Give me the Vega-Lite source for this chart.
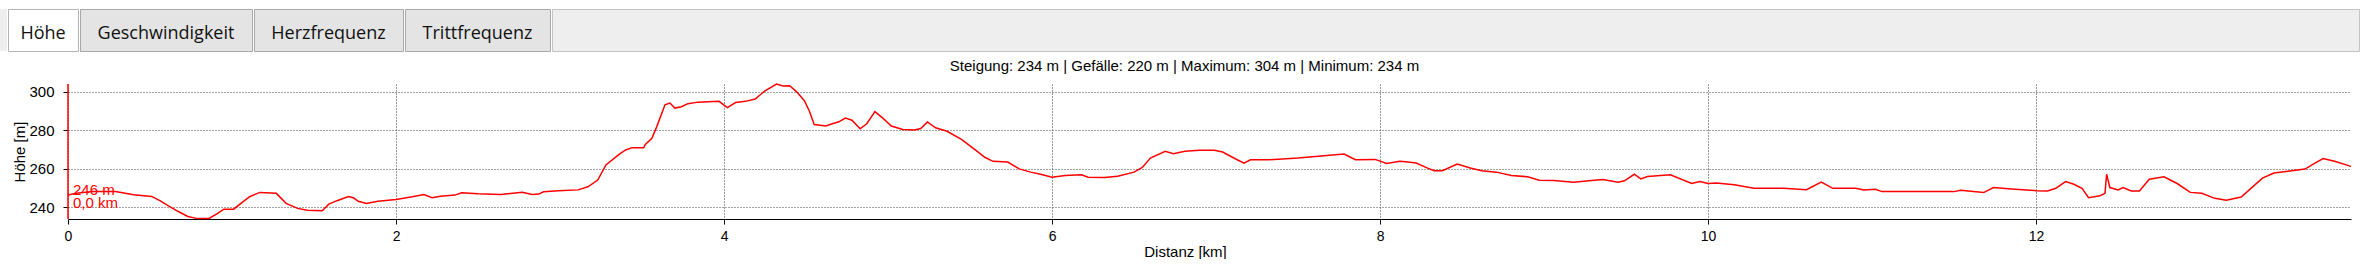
{
  "$schema": "https://vega.github.io/schema/vega-lite/v6.json",
  "padding": {"left": 0, "top": 8, "right": 0, "bottom": 0},
  "background": "white",
  "spacing": 7,
  "config": {"font": "Liberation Sans", "view": {"stroke": null}},
  "datasets": {
    "profil": [
      {"distanz":0,"hoehe":246.5},{"distanz":0.05,"hoehe":247.3},{"distanz":0.15,"hoehe":248.2},{"distanz":0.29,"hoehe":248.2},{"distanz":0.40,"hoehe":246.6},{"distanz":0.51,"hoehe":245.7},{"distanz":0.56,"hoehe":243.5},{"distanz":0.61,"hoehe":240.9},{"distanz":0.67,"hoehe":238},{"distanz":0.73,"hoehe":235.3},{"distanz":0.79,"hoehe":234.2},{"distanz":0.86,"hoehe":234.3},{"distanz":0.91,"hoehe":236.8},{"distanz":0.95,"hoehe":239.1},{"distanz":1.01,"hoehe":239.1},{"distanz":1.06,"hoehe":242.5},{"distanz":1.11,"hoehe":245.7},{"distanz":1.17,"hoehe":247.8},{"distanz":1.27,"hoehe":247.3},{"distanz":1.33,"hoehe":242.1},{"distanz":1.40,"hoehe":239.5},{"distanz":1.46,"hoehe":238.6},{"distanz":1.55,"hoehe":238.3},{"distanz":1.59,"hoehe":241.7},{"distanz":1.64,"hoehe":243.5},{"distanz":1.71,"hoehe":245.7},{"distanz":1.74,"hoehe":245.0},{"distanz":1.77,"hoehe":243.2},{"distanz":1.82,"hoehe":242.0},{"distanz":1.89,"hoehe":243.2},{"distanz":2.00,"hoehe":244.1},{"distanz":2.10,"hoehe":245.5},{"distanz":2.17,"hoehe":246.7},{"distanz":2.22,"hoehe":245.0},{"distanz":2.27,"hoehe":245.8},{"distanz":2.36,"hoehe":246.4},{"distanz":2.40,"hoehe":247.6},{"distanz":2.50,"hoehe":247.1},{"distanz":2.64,"hoehe":246.7},{"distanz":2.77,"hoehe":247.9},{"distanz":2.83,"hoehe":246.7},{"distanz":2.87,"hoehe":246.9},{"distanz":2.90,"hoehe":248.1},{"distanz":2.99,"hoehe":248.6},{"distanz":3.11,"hoehe":249.1},{"distanz":3.17,"hoehe":250.7},{"distanz":3.23,"hoehe":254.2},{"distanz":3.28,"hoehe":262.0},{"distanz":3.36,"hoehe":267.5},{"distanz":3.40,"hoehe":269.8},{"distanz":3.44,"hoehe":271.0},{"distanz":3.51,"hoehe":271.0},{"distanz":3.52,"hoehe":272.7},{"distanz":3.56,"hoehe":275.9},{"distanz":3.59,"hoehe":281.9},{"distanz":3.64,"hoehe":293.2},{"distanz":3.67,"hoehe":294.1},{"distanz":3.70,"hoehe":291.5},{"distanz":3.74,"hoehe":292.2},{"distanz":3.78,"hoehe":293.8},{"distanz":3.84,"hoehe":294.6},{"distanz":3.97,"hoehe":295.0},{"distanz":4.02,"hoehe":291.8},{"distanz":4.07,"hoehe":294.4},{"distanz":4.13,"hoehe":295.0},{"distanz":4.19,"hoehe":296.2},{"distanz":4.25,"hoehe":300.5},{"distanz":4.32,"hoehe":304.0},{"distanz":4.36,"hoehe":303.0},{"distanz":4.40,"hoehe":303.1},{"distanz":4.44,"hoehe":300.2},{"distanz":4.49,"hoehe":295.3},{"distanz":4.52,"hoehe":290.0},{"distanz":4.55,"hoehe":283.0},{"distanz":4.62,"hoehe":282.2},{"distanz":4.66,"hoehe":283.4},{"distanz":4.70,"hoehe":284.4},{"distanz":4.74,"hoehe":286.3},{"distanz":4.78,"hoehe":285.2},{"distanz":4.83,"hoehe":280.8},{"distanz":4.87,"hoehe":283.4},{"distanz":4.92,"hoehe":289.7},{"distanz":4.97,"hoehe":286.2},{"distanz":5.02,"hoehe":282.2},{"distanz":5.09,"hoehe":280.4},{"distanz":5.16,"hoehe":280.1},{"distanz":5.20,"hoehe":280.9},{"distanz":5.24,"hoehe":284.3},{"distanz":5.29,"hoehe":281.3},{"distanz":5.36,"hoehe":279.5},{"distanz":5.45,"hoehe":275.2},{"distanz":5.53,"hoehe":270.0},{"distanz":5.59,"hoehe":266.0},{"distanz":5.64,"hoehe":263.9},{"distanz":5.73,"hoehe":263.5},{"distanz":5.80,"hoehe":260.0},{"distanz":5.87,"hoehe":258.3},{"distanz":5.93,"hoehe":257.2},{"distanz":6.00,"hoehe":255.7},{"distanz":6.08,"hoehe":256.6},{"distanz":6.18,"hoehe":256.9},{"distanz":6.22,"hoehe":255.7},{"distanz":6.32,"hoehe":255.5},{"distanz":6.40,"hoehe":256.2},{"distanz":6.50,"hoehe":258.3},{"distanz":6.55,"hoehe":260.7},{"distanz":6.60,"hoehe":265.6},{"distanz":6.69,"hoehe":269.1},{"distanz":6.74,"hoehe":267.9},{"distanz":6.81,"hoehe":269.1},{"distanz":6.90,"hoehe":269.6},{"distanz":6.99,"hoehe":269.6},{"distanz":7.04,"hoehe":268.7},{"distanz":7.12,"hoehe":265.1},{"distanz":7.17,"hoehe":263.0},{"distanz":7.21,"hoehe":264.7},{"distanz":7.32,"hoehe":264.7},{"distanz":7.50,"hoehe":265.6},{"distanz":7.64,"hoehe":266.7},{"distanz":7.78,"hoehe":267.7},{"distanz":7.85,"hoehe":264.7},{"distanz":7.97,"hoehe":264.9},{"distanz":8.04,"hoehe":262.8},{"distanz":8.12,"hoehe":264.0},{"distanz":8.17,"hoehe":263.5},{"distanz":8.22,"hoehe":263.0},{"distanz":8.29,"hoehe":260.4},{"distanz":8.33,"hoehe":259.0},{"distanz":8.38,"hoehe":259.0},{"distanz":8.47,"hoehe":262.5},{"distanz":8.55,"hoehe":260.4},{"distanz":8.62,"hoehe":259.0},{"distanz":8.71,"hoehe":258.3},{"distanz":8.80,"hoehe":256.6},{"distanz":8.90,"hoehe":255.9},{"distanz":8.97,"hoehe":254.1},{"distanz":9.06,"hoehe":253.9},{"distanz":9.18,"hoehe":253.1},{"distanz":9.29,"hoehe":253.9},{"distanz":9.36,"hoehe":254.5},{"distanz":9.45,"hoehe":253.1},{"distanz":9.49,"hoehe":253.8},{"distanz":9.55,"hoehe":257.2},{"distanz":9.59,"hoehe":254.8},{"distanz":9.63,"hoehe":256.0},{"distanz":9.77,"hoehe":256.9},{"distanz":9.90,"hoehe":252.4},{"distanz":9.95,"hoehe":253.4},{"distanz":10.00,"hoehe":252.4},{"distanz":10.05,"hoehe":252.7},{"distanz":10.16,"hoehe":251.7},{"distanz":10.28,"hoehe":249.9},{"distanz":10.46,"hoehe":249.9},{"distanz":10.60,"hoehe":249.2},{"distanz":10.69,"hoehe":253.1},{"distanz":10.76,"hoehe":249.9},{"distanz":10.90,"hoehe":249.9},{"distanz":10.95,"hoehe":249.0},{"distanz":11.02,"hoehe":249.4},{"distanz":11.06,"hoehe":248.2},{"distanz":11.28,"hoehe":248.2},{"distanz":11.50,"hoehe":248.2},{"distanz":11.54,"hoehe":248.9},{"distanz":11.68,"hoehe":247.7},{"distanz":11.74,"hoehe":250.3},{"distanz":11.85,"hoehe":249.6},{"distanz":12.00,"hoehe":248.7},{"distanz":12.07,"hoehe":248.5},{"distanz":12.12,"hoehe":249.9},{"distanz":12.18,"hoehe":253.4},{"distanz":12.23,"hoehe":252.0},{"distanz":12.28,"hoehe":249.9},{"distanz":12.32,"hoehe":245.0},{"distanz":12.39,"hoehe":246.1},{"distanz":12.42,"hoehe":247.3},{"distanz":12.43,"hoehe":257.2},{"distanz":12.45,"hoehe":250.3},{"distanz":12.50,"hoehe":249.1},{"distanz":12.53,"hoehe":250.3},{"distanz":12.58,"hoehe":248.5},{"distanz":12.63,"hoehe":248.5},{"distanz":12.69,"hoehe":254.6},{"distanz":12.78,"hoehe":255.9},{"distanz":12.86,"hoehe":252.4},{"distanz":12.94,"hoehe":247.8},{"distanz":13.01,"hoehe":247.3},{"distanz":13.09,"hoehe":244.7},{"distanz":13.16,"hoehe":243.7},{"distanz":13.25,"hoehe":245.4},{"distanz":13.31,"hoehe":249.9},{"distanz":13.38,"hoehe":255.2},{"distanz":13.45,"hoehe":257.8},{"distanz":13.64,"hoehe":259.9},{"distanz":13.70,"hoehe":263.0},{"distanz":13.75,"hoehe":265.3},{"distanz":13.82,"hoehe":263.9},{"distanz":13.92,"hoehe":261.3}
    ],
    "marker": [{"distanz": 0, "hoehe": 246, "beschriftung": "246 m\n0,0 km"}],
    "leer": [{"t": ""}]
  },
  "vconcat": [
    {
      "spacing": 0,
      "hconcat": [
        {"width": 7, "height": 42, "data": {"name": "leer"}, "view": {"fill": "#eeeeee", "stroke": null},
         "mark": {"type": "text", "fontSize": 10}, "encoding": {"text": {"field": "t"}}},
        {"width": 70, "height": 42, "data": {"values": [{"tab": "Höhe"}]}, "view": {"fill": "white", "stroke": "#b4b4b4"},
         "mark": {"type": "text", "font": "Open Sans", "fontSize": 18, "color": "#111111", "dy": 4}, "encoding": {"text": {"field": "tab"}}},
        {"width": 172, "height": 42, "data": {"values": [{"tab": "Geschwindigkeit"}]}, "view": {"fill": "#e4e4e4", "stroke": "#a8a8a8"},
         "mark": {"type": "text", "font": "Open Sans", "fontSize": 18, "color": "#111111", "dy": 4}, "encoding": {"text": {"field": "tab"}}},
        {"width": 149, "height": 42, "data": {"values": [{"tab": "Herzfrequenz"}]}, "view": {"fill": "#e4e4e4", "stroke": "#a8a8a8"},
         "mark": {"type": "text", "font": "Open Sans", "fontSize": 18, "color": "#111111", "dy": 4}, "encoding": {"text": {"field": "tab"}}},
        {"width": 145, "height": 42, "data": {"values": [{"tab": "Trittfrequenz"}]}, "view": {"fill": "#e4e4e4", "stroke": "#a8a8a8"},
         "mark": {"type": "text", "font": "Open Sans", "fontSize": 18, "color": "#111111", "dy": 4}, "encoding": {"text": {"field": "tab"}}},
        {"width": 1807, "height": 42, "data": {"name": "leer"}, "view": {"fill": "#eeeeee", "stroke": "#c4c4c4"},
         "mark": {"type": "text", "fontSize": 10}, "encoding": {"text": {"field": "t"}}}
      ]
    },
    {
      "spacing": 0,
      "hconcat": [
        {"width": 12, "height": 135, "data": {"name": "leer"}, "mark": {"type": "text", "fontSize": 10}, "encoding": {"text": {"field": "t"}}},
        {
          "width": 2283,
          "height": 135,
          "title": {"text": "Steigung: 234 m | Gefälle: 220 m | Maximum: 304 m | Minimum: 234 m", "fontSize": 15, "fontWeight": "normal", "font": "Liberation Sans", "color": "black", "frame": "group", "anchor": "middle", "dx": -25, "offset": 7},
          "layer": [
            {
              "data": {"name": "profil"},
              "mark": {"type": "line", "color": "#ff0000", "strokeWidth": 1.5},
              "encoding": {
                "x": {"field": "distanz", "type": "quantitative", "scale": {"domain": [0, 13.92], "nice": false},
                  "axis": {"values": [0, 2, 4, 6, 8, 10, 12], "format": "d", "title": "Distanz [km]", "grid": true, "gridColor": "#333333", "gridDash": [1, 2], "domainColor": "black", "domainWidth": 1.2, "tickColor": "black", "tickSize": 5, "labelFontSize": 14, "labelColor": "black", "labelPadding": 5, "labelFlush": false, "titleFontSize": 15, "titleFontWeight": "normal", "titleColor": "black", "titlePadding": 1, "titleX": 1117}},
                "y": {"field": "hoehe", "type": "quantitative", "scale": {"domain": [234, 304], "nice": false, "zero": false},
                  "axis": {"values": [240, 250, 260, 270, 280, 290, 300], "title": "Höhe [m]", "domain": false, "grid": true, "gridColor": "#444444", "gridDash": [1, 2], "tickColor": "black", "tickSize": 5, "labelFontSize": 15, "labelColor": "black", "labelPadding": 9, "titleFontSize": 15, "titleFontWeight": "normal", "titleColor": "black", "titlePadding": 1}}
              }
            },
            {
              "data": {"name": "marker"},
              "mark": {"type": "rule", "color": "#ff0000", "strokeWidth": 1.5},
              "encoding": {"x": {"field": "distanz", "type": "quantitative"}}
            },
            {
              "data": {"name": "marker"},
              "mark": {"type": "text", "color": "#ff0000", "align": "left", "baseline": "alphabetic", "dx": 5, "dy": -1, "fontSize": 15, "lineBreak": "\n", "lineHeight": 13},
              "encoding": {
                "x": {"field": "distanz", "type": "quantitative"},
                "y": {"field": "hoehe", "type": "quantitative"},
                "text": {"field": "beschriftung"}
              }
            }
          ]
        }
      ]
    }
  ]
}
